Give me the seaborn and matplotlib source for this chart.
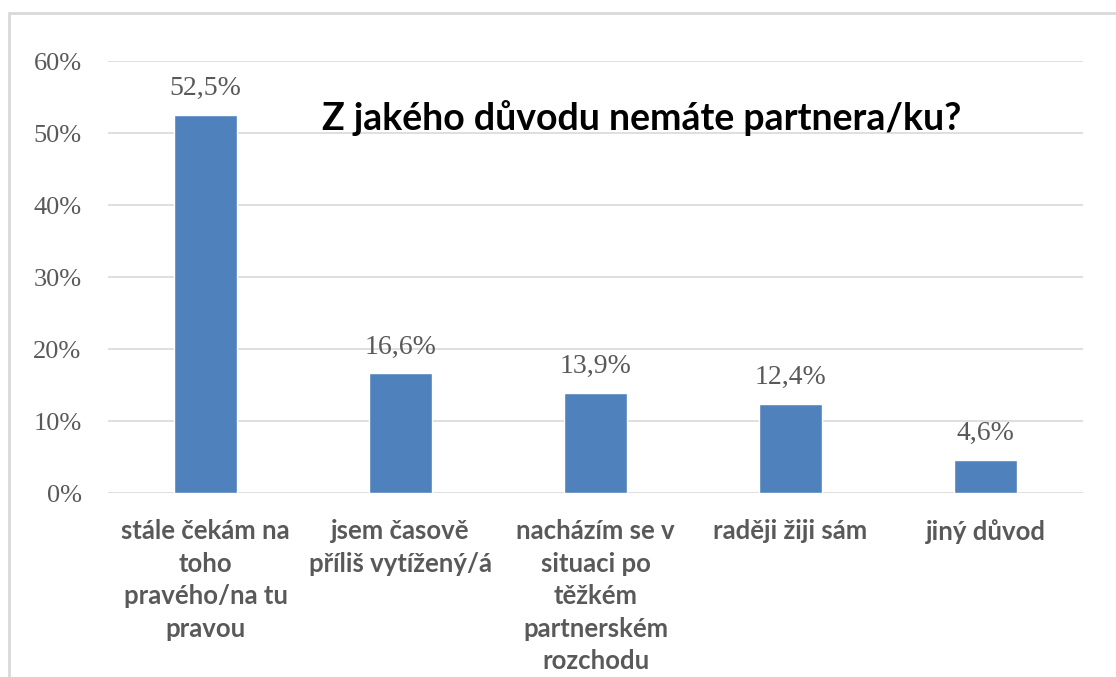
"""
Z jakého důvodu nemáte partnera/ku? — sloupcový graf (seaborn)
"""
import matplotlib
matplotlib.use("Agg")
import matplotlib.pyplot as plt
from matplotlib.patches import Rectangle
from matplotlib.ticker import FuncFormatter, MultipleLocator
import pandas as pd
import seaborn as sns

TITLE = "Z jakého důvodu nemáte partnera/ku?"
CATEGORIES = [
    "stále čekám na\ntoho\npravého/na tu\npravou",
    "jsem časově\npříliš vytížený/á",
    "nacházím se v\nsituaci po\ntěžkém\npartnerském\nrozchodu",
    "raději žiji sám",
    "jiný důvod",
]
VALUES = [52.5, 16.6, 13.9, 12.4, 4.6]

BAR_COLOR = "#4F81BD"
GRID_COLOR = "#D9D9D9"
TEXT_GRAY = "#595959"

sns.set_theme(style="white")
plt.rcParams["font.family"] = ["Lato", "DejaVu Sans"]

df = pd.DataFrame({"duvod": CATEGORIES, "podil": VALUES})

fig = plt.figure(figsize=(11.16, 6.77), dpi=100)
ax = fig.add_axes([108 / 1116, 1 - 493 / 677, 975 / 1116, 432 / 677])

sns.barplot(data=df, x="duvod", y="podil", color=BAR_COLOR, width=0.32,
            saturation=1, ax=ax, zorder=3)

ax.set_ylim(0, 60)
ax.yaxis.set_major_locator(MultipleLocator(10))
ax.yaxis.set_major_formatter(FuncFormatter(lambda v, _: f"{v:.0f}%"))
ax.grid(axis="y", color=GRID_COLOR, linewidth=1.2, zorder=0)
ax.set_xlim(-0.5, len(CATEGORIES) - 0.5)
for s in ax.spines.values():
    s.set_visible(False)
ax.set_xlabel("")
ax.set_ylabel("")
ax.tick_params(axis="y", length=0, pad=19, labelsize=19, labelcolor=TEXT_GRAY)
ax.tick_params(axis="x", length=0, pad=19, labelsize=18.5, labelcolor=TEXT_GRAY)
for lab in ax.get_yticklabels():
    lab.set_family("Liberation Serif")
for lab in ax.get_xticklabels():
    lab.set_fontweight("bold")
    lab.set_linespacing(1.42)
    lab.set_verticalalignment("top")

# popisky hodnot nad sloupci
for i, v in enumerate(VALUES):
    ax.annotate(f"{v:.1f}%".replace(".", ","), (i, v), xytext=(0, 10),
                textcoords="offset points", ha="center", va="bottom",
                fontsize=20, color=TEXT_GRAY, family="Liberation Serif")

fig.text(642 / 1116, 1 - 118 / 677, TITLE, ha="center", va="center",
         fontsize=27, fontweight="bold", color="black")

# rámeček grafu (oříznutý, vidět je jen horní a levá hrana)
fig.add_artist(Rectangle((9 / 1116, -0.5), 2, 0.5 + (1 - 13 / 677),
                         transform=fig.transFigure, fill=False,
                         edgecolor=GRID_COLOR, linewidth=2))

fig.savefig("out.png", dpi=100, facecolor="white")
